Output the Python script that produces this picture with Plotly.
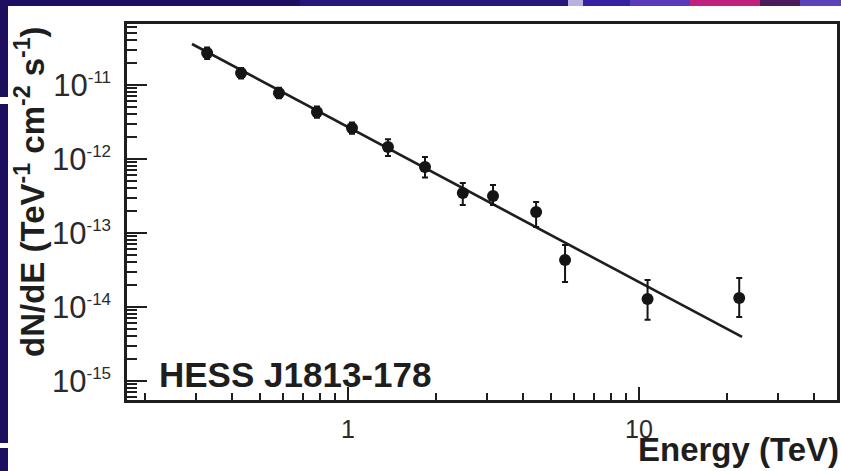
import plotly.graph_objects as go

# ---- data ----
energy = [0.328, 0.429, 0.579, 0.782, 1.032, 1.372, 1.839, 2.48, 3.15, 4.43, 5.57, 10.7, 22.1]
flux = [2.70e-11, 1.45e-11, 7.8e-12, 4.3e-12, 2.62e-12, 1.45e-12, 7.8e-13,
        3.47e-13, 3.16e-13, 1.92e-13, 4.3e-14, 1.28e-14, 1.32e-14]
flux_hi = [3.2e-11, 1.7e-11, 9.2e-12, 5.1e-12, 3.1e-12, 1.85e-12, 1.06e-12,
           4.74e-13, 4.45e-13, 2.62e-13, 6.9e-14, 2.32e-14, 2.47e-14]
flux_lo = [2.25e-11, 1.22e-11, 6.6e-12, 3.6e-12, 2.2e-12, 1.1e-12, 5.6e-13,
           2.39e-13, 2.39e-13, 1.2e-13, 2.18e-14, 6.7e-15, 7.3e-15]

fit_energy = [0.291, 22.6]
fit_flux = [3.58e-11, 3.94e-15]

y_major = [1e-15, 1e-14, 1e-13, 1e-12, 1e-11]
y_exponents = ["-15", "-14", "-13", "-12", "-11"]
x_major = [1, 10]
x_major_text = ["1", "10"]

err_plus = [h - f for h, f in zip(flux_hi, flux)]
err_minus = [f - l for f, l in zip(flux, flux_lo)]

y_minor = [m * 10.0 ** e for e in range(-16, -10) for m in range(2, 10)]
x_minor = [m * 10.0 ** e for e in range(-1, 2) for m in range(2, 10)]

y_major_text = ['10<sup><span style="font-size:17px">%s</span></sup>' % e for e in y_exponents]

W, H = 841, 471
L, R, T, B = 127, 4, 24, 71
PW, PH = W - L - R, H - T - B


def px(x):
    return (x - L) / PW


def py(y):
    return (H - B - y) / PH


fig = go.Figure()
fig.add_trace(go.Scatter(x=fit_energy, y=fit_flux, mode="lines",
                         line=dict(color="#1e1e1e", width=2.6), showlegend=False))
fig.add_trace(go.Scatter(
    x=energy, y=flux, mode="markers",
    marker=dict(color="#151515", size=12),
    error_y=dict(type="data", symmetric=False, array=err_plus, arrayminus=err_minus,
                 color="#151515", thickness=2, width=3),
    showlegend=False))

tickfont_y = dict(family="Liberation Sans, Arial", size=31, color="#2a2a2a")
tickfont_x = dict(family="Liberation Sans, Arial", size=25, color="#2a2a2a")

fig.update_xaxes(type="log", range=[-0.7595, 1.6804], tickmode="array",
                 tickvals=x_major, ticktext=x_major_text, ticks="inside",
                 ticklen=13, tickwidth=2, tickcolor="#1e1e1e", tickfont=tickfont_x,
                 ticklabelstandoff=5,
                 minor=dict(tickmode="array", tickvals=x_minor, ticks="inside",
                            ticklen=7, tickwidth=2, tickcolor="#1e1e1e", showgrid=False),
                 showline=True, linecolor="#1e1e1e", linewidth=2.5, mirror=True,
                 showgrid=False, zeroline=False, automargin=False)
fig.update_yaxes(type="log", range=[-15.257, -10.176], tickmode="array",
                 tickvals=y_major, ticktext=y_major_text, ticks="inside",
                 ticklen=20, tickwidth=2, tickcolor="#1e1e1e", tickfont=tickfont_y,
                 ticklabelstandoff=7,
                 minor=dict(tickmode="array", tickvals=y_minor, ticks="inside",
                            ticklen=10, tickwidth=2, tickcolor="#1e1e1e", showgrid=False),
                 showline=True, linecolor="#1e1e1e", linewidth=2.5, mirror=True,
                 showgrid=False, zeroline=False, automargin=False)

bold = dict(family="Liberation Sans, Arial", color="#1e1e1e")
fig.add_annotation(text="<b>HESS J1813-178</b>", xref="paper", yref="paper",
                   x=px(157), y=py(374), xanchor="left", yanchor="middle",
                   showarrow=False, font=dict(size=35, **bold))
fig.add_annotation(text="<b>Energy (TeV)</b>", xref="paper", yref="paper",
                   x=px(841), y=py(450), xanchor="right", yanchor="middle",
                   showarrow=False, font=dict(size=33, **bold))
fig.add_annotation(text="<b>dN/dE (TeV<sup>-1</sup> cm<sup>-2</sup> s<sup>-1</sup>)</b>",
                   xref="paper", yref="paper", x=px(30), y=py(192),
                   xanchor="center", yanchor="middle", textangle=-90,
                   showarrow=False, font=dict(size=33, **bold))

# slide background decoration (strips around the picture)
shapes = []


def rect(x0, y0, x1, y1, color):
    shapes.append(dict(type="rect", xref="paper", yref="paper",
                       x0=px(x0), x1=px(x1), y0=py(y1), y1=py(y0),
                       fillcolor=color, line=dict(width=0), layer="above"))


rect(0, 0, 8, 97, "#1d0e5e")
rect(0, 104, 8, 443, "#1d0e5e")
rect(0, 448, 8, 471, "#1d0e5e")
top_segments = [(0, 300, "#1f0f62"), (300, 568, "#28167a"), (568, 583, "#b8b0e0"),
                (583, 630, "#3522a0"), (630, 690, "#5a3ab8"), (690, 760, "#c0207e"),
                (760, 800, "#4a1a5a"), (800, 841, "#5a42b8")]
for x0, x1, c in top_segments:
    rect(x0, 0, x1, 6, c)

fig.update_layout(width=W, height=H, margin=dict(l=L, r=R, t=T, b=B),
                  paper_bgcolor="white", plot_bgcolor="white", shapes=shapes)

fig.write_html("out.html")
